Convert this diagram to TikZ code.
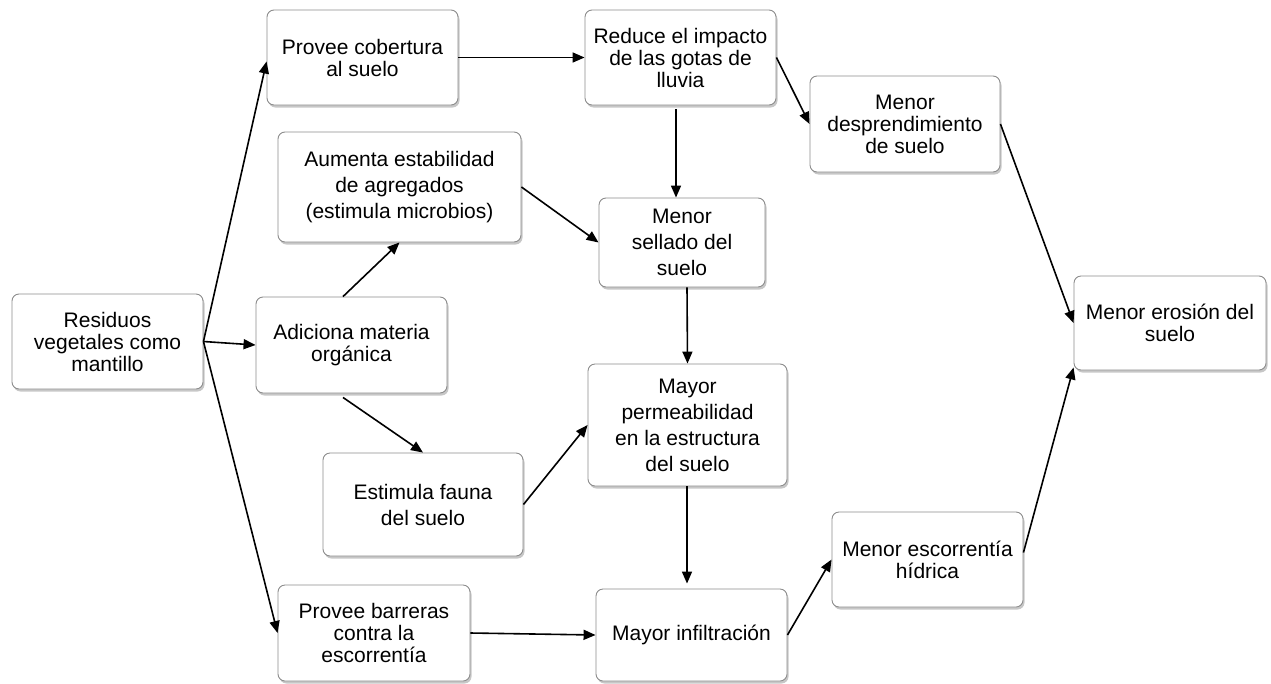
\documentclass[tikz,border=0pt]{standalone}
\usepackage{fontspec}
\setmainfont{Liberation Sans}
\usetikzlibrary{arrows.meta,shadows}
\begin{document}
\begin{tikzpicture}[x=1pt,y=-1pt,
  box/.style={draw=black!45, line width=0.9pt, rounded corners=7pt, fill=white,
    align=center, inner sep=1pt, font=\fontsize{21}{22}\selectfont,
    drop shadow={shadow xshift=1.5pt, shadow yshift=-2.5pt, opacity=0.4, fill=black!55}},
  loose/.style={font=\fontsize{21}{26}\selectfont},
  arr/.style={-{Triangle[length=12pt,width=10pt]}, line width=1.6pt, black}]
\useasboundingbox (0,0) rectangle (1271,683);

\node[box, minimum width=191pt, minimum height=95pt] (res) at (107.5,341.5) {Residuos\\vegetales como\\mantillo};
\node[box, minimum width=191pt, minimum height=95pt] (cob) at (362.5,57.5) {Provee cobertura\\al suelo};
\node[box, minimum width=191pt, minimum height=95pt] (red) at (680.5,57.5) {Reduce el impacto\\de las gotas de\\lluvia};
\node[box, minimum width=190pt, minimum height=96pt] (desp) at (905,124) {Menor\\desprendimiento\\de suelo};
\node[box, loose, minimum width=243pt, minimum height=110pt] (aum) at (399.5,187) {Aumenta estabilidad\\de agregados\\(estimula microbios)};
\node[box, loose, minimum width=166pt, minimum height=89pt] (sell) at (682,242.5) {Menor\\sellado del\\suelo};
\node[box, minimum width=191pt, minimum height=96pt] (adic) at (351.5,345) {Adiciona materia\\orgánica};
\node[box, loose, minimum width=199pt, minimum height=122pt] (perm) at (687.5,425) {Mayor\\permeabilidad\\en la estructura\\del suelo};
\node[box, loose, minimum width=200pt, minimum height=103pt] (fauna) at (423,504.5) {Estimula fauna\\del suelo};
\node[box, minimum width=192pt, minimum height=94pt] (eros) at (1170,323) {Menor erosión del\\suelo};
\node[box, minimum width=191pt, minimum height=95pt] (esc) at (927.5,559.5) {Menor escorrentía\\hídrica};
\node[box, minimum width=192pt, minimum height=96pt] (barr) at (374,633) {Provee barreras\\contra la\\escorrentía};
\node[box, minimum width=191pt, minimum height=92pt] (inf) at (691.5,635) {Mayor infiltración};

\draw[arr] (res.east) -- ([yshift=-4pt]cob.west);
\draw[arr] (res.east) -- (adic.west);
\draw[arr] (res.east) -- (barr.west);
\draw[arr] (cob.east) -- (red.west);
\draw[arr] ([xshift=-4.5pt,yshift=-4pt]red.south) -- ([xshift=-6pt]sell.north);
\draw[arr] (red.east) -- (desp.west);
\draw[arr] (aum.east) -- (sell.west);
\draw[arr] ([xshift=-8.5pt]adic.north) -- (aum.south);
\draw[arr] ([xshift=-8.5pt,yshift=-4pt]adic.south) -- (fauna.north);
\draw[arr] (fauna.east) -- (perm.west);
\draw[arr] ([xshift=5pt]sell.south) -- (perm.north);
\draw[arr] ([xshift=-0.5pt]perm.south) -- ([xshift=-4.5pt,yshift=5pt]inf.north);
\draw[arr] (barr.east) -- (inf.west);
\draw[arr] (inf.east) -- (esc.west);
\draw[arr] (desp.east) -- (eros.west);
\draw[arr] ([yshift=7pt]esc.east) -- ([yshift=3pt]eros.south west);
\end{tikzpicture}
\end{document}
